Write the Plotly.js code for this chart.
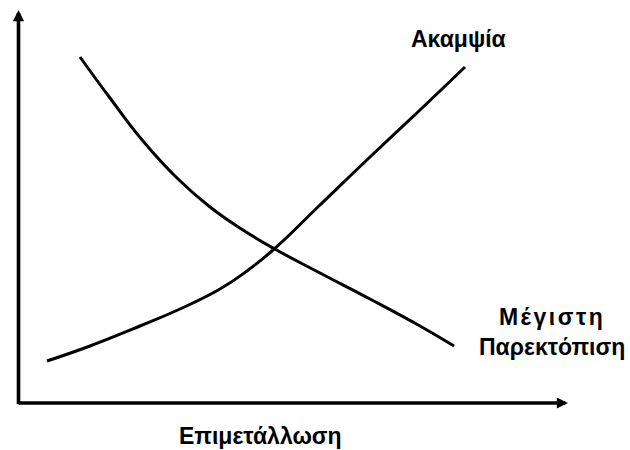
<!DOCTYPE html>
<html>
<head>
<meta charset="utf-8">
<script src="https://cdn.plot.ly/plotly-3.0.1.min.js"></script>
<style>html,body{margin:0;padding:0;background:#fff;}#chart{width:630px;height:450px;}</style>
</head>
<body>
<div id="chart"></div>
<script>
// Curve "Ακαμψία" (stiffness) – rising
const stiffX = [28, 71, 121, 161, 201, 228, 254, 301, 351, 401, 446];
const stiffY = [43, 58, 78, 95, 115, 133, 154, 199, 247, 294, 337];
// Curve "Μέγιστη Παρεκτόπιση" (max displacement) – falling
const dispX = [61, 91, 124, 158, 191, 224, 254, 301, 351, 401, 435];
const dispY = [347, 306, 263, 226, 197, 174, 156, 131, 105, 78, 58];

const labelStiff = 'Ακαμψία';
const labelDisp = '<span style="letter-spacing:2.5px">Μέγιστη</span><br>Παρεκτόπιση';
const labelX = 'Επιμετάλλωση';

const FONT = {family: 'Arial, "Liberation Sans", sans-serif', size: 23, color: '#000', weight: 'bold'};

const traces = [
  {x: stiffX, y: stiffY, mode: 'lines', line: {color: '#000', width: 3, shape: 'spline', smoothing: 1.3}, cliponaxis: false, hoverinfo: 'skip'},
  {x: dispX, y: dispY, mode: 'lines', line: {color: '#000', width: 3, shape: 'spline', smoothing: 1.3}, cliponaxis: false, hoverinfo: 'skip'}
];

const axisArrow = (x, y, ax, ay) => ({
  x: x, y: y, ax: ax, ay: ay, xref: 'x', yref: 'y', axref: 'x', ayref: 'y',
  text: '', showarrow: true, arrowhead: 2, arrowsize: 0.62, arrowwidth: 3.6, arrowcolor: '#000'
});

const layout = {
  width: 630, height: 450,
  margin: {l: 17, r: 61, t: 8, b: 44},
  paper_bgcolor: '#fff', plot_bgcolor: '#fff',
  showlegend: false,
  xaxis: {range: [-2, 550], showgrid: false, zeroline: false, showline: false, showticklabels: false, ticks: '', fixedrange: true},
  yaxis: {range: [-2, 396], showgrid: false, zeroline: false, showline: false, showticklabels: false, ticks: '', fixedrange: true},
  annotations: [
    axisArrow(549, 1, -2, 1),
    axisArrow(-0.5, 394, -0.5, -1.5),
    {x: 439, y: 365.5, xref: 'x', yref: 'y', text: labelStiff, showarrow: false, font: FONT, xanchor: 'center', yanchor: 'middle'},
    {x: 533, y: 72.5, xref: 'x', yref: 'y', text: labelDisp, showarrow: false, font: FONT, xanchor: 'center', yanchor: 'middle', align: 'center'},
    {x: 241, y: -0.0745, xref: 'x', yref: 'paper', text: labelX, showarrow: false, font: FONT, xanchor: 'center', yanchor: 'middle'}
  ]
};

Plotly.newPlot('chart', traces, layout, {staticPlot: true, displayModeBar: false});
</script>
</body>
</html>
